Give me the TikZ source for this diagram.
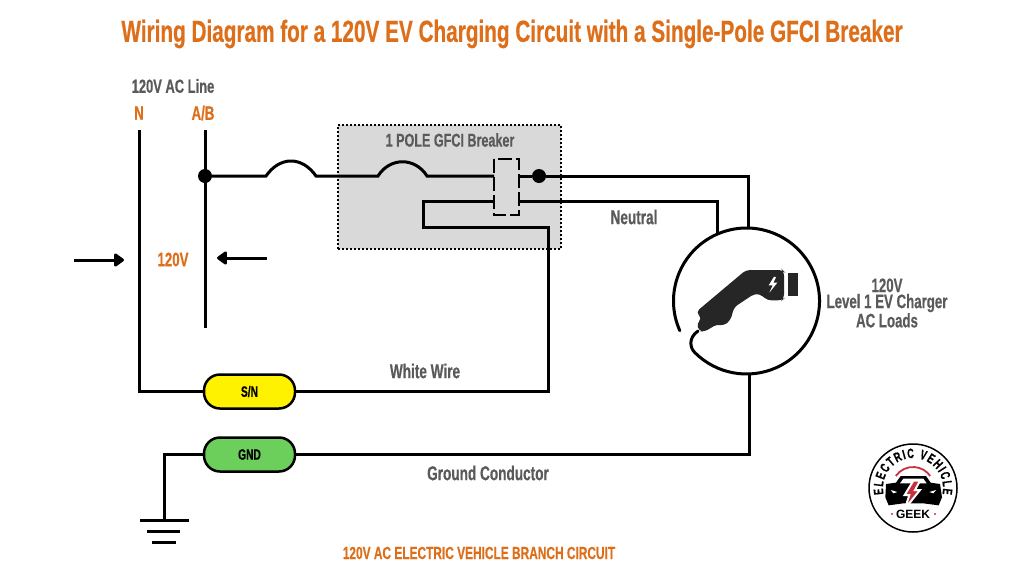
\documentclass[tikz,border=0pt]{standalone}
\usepackage{fontspec}
\setmainfont[FakeStretch=0.68,BoldFeatures={FakeBold=0.5}]{Liberation Sans}
\newfontfamily\logofont{Liberation Sans}
\usetikzlibrary{arrows.meta,decorations.text}
\definecolor{titleorange}{HTML}{DD6F1B}
\definecolor{labelgray}{HTML}{5A5A5A}
\definecolor{logored}{HTML}{C8303C}
\definecolor{gndgreen}{HTML}{6DCF5B}
\tikzset{
  wire/.style={line width=3pt,line join=miter},
  dotnode/.style={circle,fill=black,inner sep=0pt,minimum size=14pt},
  pill/.style={draw=black,line width=2.5pt,rounded corners=16pt,minimum width=91pt,minimum height=34pt,inner sep=0pt,font=\bfseries\fontsize{15}{15}\selectfont},
  graylabel/.style={text=labelgray,inner sep=0pt,font=\bfseries\fontsize{20}{20}\selectfont},
  orangelabel/.style={text=titleorange,inner sep=0pt,font=\bfseries\fontsize{19.5}{20}\selectfont},
  pusharrow/.style={wire,-{Triangle[length=11pt,width=15pt,round]}},
}
\begin{document}
\begin{tikzpicture}[x=1pt,y=-1pt,>=stealth,line cap=butt]
  \useasboundingbox (0,0) rectangle (1024,576);
  % breaker box
  \node[draw=black,fill=black!15,line width=2pt,dotted,minimum width=223pt,minimum height=124pt,inner sep=0pt] (breakerbox) at (449.5,187) {};
  \path
  (139,130) coordinate (Ntop)
  (139,391.5) coordinate (Ncorner)
  (205,130) coordinate (ABtop)
  (205,328) coordinate (ABend)
  (266,176) coordinate (fuseAin)
  (316,176) coordinate (fuseAout)
  (378,176) coordinate (fuseBin)
  (427,176) coordinate (fuseBout)
  (494,176) coordinate (contactAl)
  (519,176) coordinate (contactAr)
  (494,201) coordinate (contactBl)
  (519,201) coordinate (contactBr)
  (423,201) coordinate (loopA)
  (423,227) coordinate (loopB)
  (548,227) coordinate (loopC)
  (548,391.5) coordinate (loopD)
  (748,176) coordinate (lineC)
  (748,228) coordinate (lineEnd)
  (717,201) coordinate (neutC)
  (717,234) coordinate (neutEnd)
  (749,454.5) coordinate (gndC)
  (749,374) coordinate (gndEnd)
  (164.5,454.5) coordinate (earthC)
  (164.5,520) coordinate (earthTop)
  (746.5,301) coordinate (chargerC)
  (74,260) coordinate (pushLa)
  (124,260) coordinate (pushLb)
  (267,258) coordinate (pushRa)
  (217,258) coordinate (pushRb)
  ;
  % bus lines
  \node[dotnode] (dotAB) at (205,176) {};
  \node[dotnode] (dotOut) at (539,176) {};
  \node[pill,fill=yellow] (sn) at (249.5,391.5) {S/N};
  \node[pill,fill=gndgreen] (gnd) at (249.5,454.5) {GND};
  \draw[wire] (ABtop) -- (ABend);
  \draw[wire] (Ntop) -- (Ncorner) -- (sn.west);
  \draw[wire] (dotAB) -- (fuseAin) .. controls (280,156) and (302,156) .. (fuseAout) -- (fuseBin)
    .. controls (390,157) and (415,157) .. (fuseBout) -- (contactAl);
  \draw[wire] (contactAr) -- (dotOut) -- (lineC) -- (lineEnd);
  \draw[wire] (contactBr) -- (neutC) -- (neutEnd);
  \draw[wire] (contactBl) -- (loopA) -- (loopB) -- (loopC) -- (loopD) -- (sn.east);
  \draw[wire] (gnd.east) -- (gndC) -- (gndEnd);
  \draw[wire] (gnd.west) -- (earthC) -- (earthTop);
  \draw[wire] (140,520) -- (189,520) (147,531) -- (180,531) (152,542) -- (176,542);
  \draw[line width=2pt,dashed,dash pattern=on 14pt off 4pt] (494,159) rectangle (519,215);
  % arrows
  \draw[pusharrow] (pushLa) -- (pushLb);
  \draw[pusharrow] (pushRa) -- (pushRb);
  % charger
  \draw[line width=3pt,line cap=round] (chargerC) ++(156:73) arc[start angle=156,end angle=495,radius=73]
    .. controls (690,348) and (688,338) .. (698,331);
  \begin{scope}[shift={(660,220)},scale=1/3]
    \fill[black!85,rounded corners=4pt] (258,150) -- (368,150) -- (372,154) -- (372,236) -- (366,241) -- (322,241)
      -- (300,222) -- (282,222) -- (222,262) -- (212,300) -- (190,318) -- (172,312) -- (132,336) -- (116,332)
      -- (110,310) -- (126,296) -- (108,276) -- cycle;
    \fill[black!85] (384,160) rectangle (413,228);
    \fill[white] (342,170) -- (326,196) -- (338,196) -- (328,218) -- (352,188) -- (340,188) -- (348,172) -- cycle;
  \end{scope}
  % logo
  \draw[line width=1.5pt] (913,488) circle[radius=44];
  \path[decorate,decoration={text along path,text align={fit to path},text={|\bfseries\fontsize{13.5}{14}\selectfont|ELECTRIC VEHICLE}}]
    (913,488) ++(168:30) arc[start angle=168,end angle=372,radius=30];
  \draw[logored,line width=1.8pt] (913,488) ++(215:21) arc[start angle=215,end angle=325,radius=21];
  \begin{scope}[shift={(860,440)},scale=1/3]
    \fill[black] (78,132) -- (108,128) -- (122,108) -- (198,108) -- (212,128) -- (240,132) -- (246,172) -- (236,196) -- (190,190)
      -- (130,190) -- (86,196) -- (76,172) -- cycle;
    \fill[white] (130,116) -- (190,116) -- (200,130) -- (120,130) -- cycle;
    \fill[white] (92,150) -- (112,156) -- (100,160) -- cycle (228,150) -- (208,156) -- (220,160) -- cycle;
    \fill[logored,draw=white,line width=2pt] (160,122) -- (180,122) -- (165,150) -- (180,150) -- (135,206) -- (148,165) -- (134,165) -- cycle;
  \end{scope}
  \node[inner sep=0pt,font=\logofont\bfseries\fontsize{12}{12}\selectfont] (geek) at (913,514) {GEEK};
  \fill[logored] (892,514) circle (1.2pt) (935,514) circle (1.2pt);
  % labels
  \node[inner sep=0pt,text=titleorange,font=\bfseries\fontsize{30.5}{30}\selectfont] (title) at (512,34) {Wiring Diagram for a 120V EV Charging Circuit with a Single-Pole GFCI Breaker};
  \node[graylabel,font=\bfseries\fontsize{19}{19}\selectfont] (acline) at (173,86) {120V AC Line};
  \node[orangelabel] (labN) at (139,113) {N};
  \node[orangelabel] (labAB) at (203,113) {A/B};
  \node[orangelabel] (lab120) at (173,259.5) {120V};
  \node[graylabel,font=\bfseries\fontsize{18.5}{19}\selectfont] (labbreaker) at (450,140) {1 POLE GFCI Breaker};
  \node[graylabel] (labneutral) at (634,217) {Neutral};
  \node[graylabel] (labwhite) at (425,371) {White Wire};
  \node[graylabel] (labground) at (488,473) {Ground Conductor};
  \node[graylabel,align=center,font=\bfseries\fontsize{19.5}{16}\selectfont] (labcharger) at (887,303) {120V\\Level 1 EV Charger\\AC Loads};
  \node[orangelabel,font=\bfseries\fontsize{17.5}{18}\selectfont] (labbranch) at (479,553) {120V AC ELECTRIC VEHICLE BRANCH CIRCUIT};
\end{tikzpicture}
\end{document}
